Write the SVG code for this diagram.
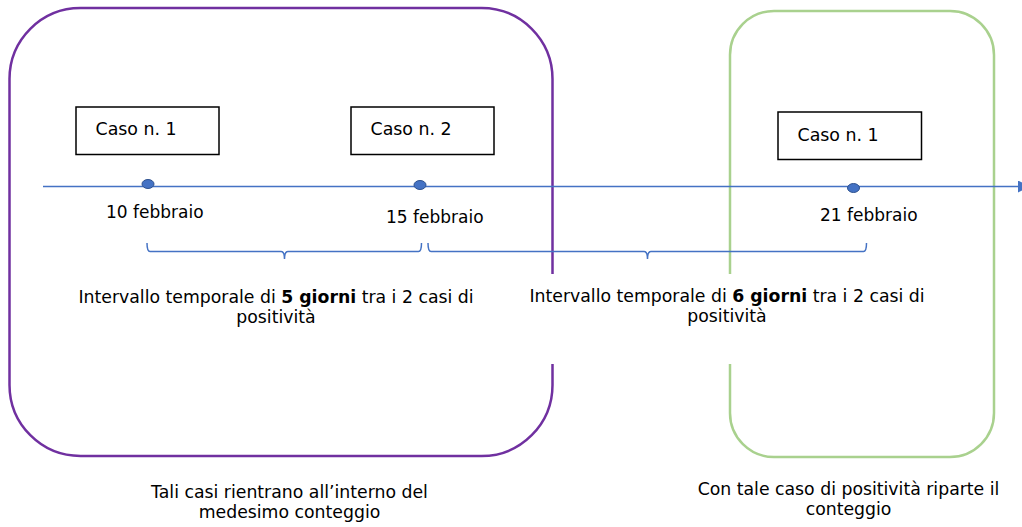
<svg xmlns="http://www.w3.org/2000/svg" width="1022" height="527" viewBox="0 0 1022 527">
<style>
text{font-family:"DejaVu Sans",Verdana,sans-serif;fill:#000}
.lbl{font-size:17.4px}
.date{font-size:17px}
.mid{font-size:17.3px;text-anchor:middle}
.case{fill:#fff;stroke:#000;stroke-width:1.5}
.tl{stroke:#4472C4;stroke-width:1.5;fill:none}
.dot{fill:#4472C4;stroke:#2F528F;stroke-width:1}
</style>
<defs>
<marker id="arr" viewBox="0 0 12 12" refX="0" refY="6" markerWidth="12" markerHeight="12" orient="auto" markerUnits="userSpaceOnUse">
<path d="M0,0 L12,6 L0,12 z" fill="#4472C4"/>
</marker>
</defs>
<rect width="1022" height="527" fill="#fff"/>
<g id="group-a">
<rect x="9.5" y="8" width="543" height="448" rx="71" ry="71" fill="none" stroke="#7030A0" stroke-width="2.5"/>
</g>
<g id="group-b">
<rect x="730" y="11" width="264" height="446" rx="44" ry="44" fill="none" stroke="#A9D18E" stroke-width="2.5"/>
</g>
<g id="connectors">
<line class="tl" x1="43" y1="186.5" x2="1018" y2="186.5" marker-end="url(#arr)"/>
<path class="tl" d="M147,243 Q147,251.5 150,251.5 L281,251.5 Q284.5,251.5 284.5,259 Q284.5,251.5 288,251.5 L418.5,251.5 Q421.5,251.5 421.5,243"/>
<path class="tl" d="M428,243 Q428,251.5 431,251.5 L644,251.5 Q647.5,251.5 647.5,259 Q647.5,251.5 651,251.5 L863.5,251.5 Q866.5,251.5 866.5,243"/>
</g>
<g id="dot1"><ellipse class="dot" cx="148" cy="184" rx="6" ry="4.5"/></g>
<g id="dot2"><ellipse class="dot" cx="420" cy="185" rx="6" ry="4.5"/></g>
<g id="dot3"><ellipse class="dot" cx="853.5" cy="188" rx="6" ry="4.5"/></g>
<g id="case1">
<rect class="case" x="76" y="107" width="143" height="47.5"/>
<text class="lbl" x="95.5" y="135">Caso n. 1</text>
</g>
<g id="case2">
<rect class="case" x="351" y="107" width="143" height="47.5"/>
<text class="lbl" x="370.5" y="135">Caso n. 2</text>
</g>
<g id="case3">
<rect class="case" x="778" y="112" width="143.5" height="47.5"/>
<text class="lbl" x="797.5" y="141">Caso n. 1</text>
</g>
<g id="date1"><text class="date" x="106" y="218">10 febbraio</text></g>
<g id="date2"><text class="date" x="386" y="222.5">15 febbraio</text></g>
<g id="date3"><text class="date" x="820" y="221">21 febbraio</text></g>
<g id="interval1">
<text class="mid" x="276" y="303">Intervallo temporale di <tspan font-weight="bold">5 giorni</tspan> tra i 2 casi di</text>
<text class="mid" x="276" y="323">positività</text>
</g>
<g id="interval2">
<rect x="520" y="274" width="420" height="90" fill="#fff"/>
<text class="mid" x="727" y="302">Intervallo temporale di <tspan font-weight="bold">6 giorni</tspan> tra i 2 casi di</text>
<text class="mid" x="727" y="322">positività</text>
</g>
<g id="note1">
<text class="mid" x="289.5" y="498">Tali casi rientrano all’interno del</text>
<text class="mid" x="289.5" y="518">medesimo conteggio</text>
</g>
<g id="note2">
<text class="mid" x="848.5" y="495">Con tale caso di positività riparte il</text>
<text class="mid" x="848.5" y="515">conteggio</text>
</g>
</svg>
